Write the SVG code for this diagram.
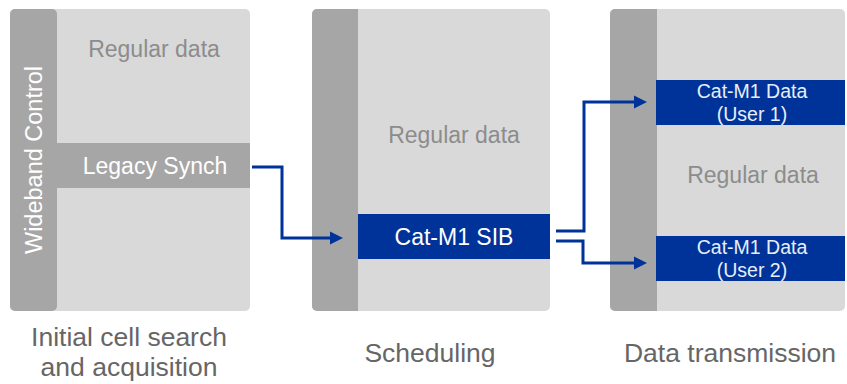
<svg xmlns="http://www.w3.org/2000/svg" width="847" height="384" viewBox="0 0 847 384">
<style>
.panel{fill:#d9d9d9}
.strip{fill:#a6a6a6}
.blue{fill:#003399}
.t{font-family:"Liberation Sans",Arial,sans-serif;text-anchor:middle}
.reg{font-size:23px;fill:#8c8c8c}
.wt{font-size:23px;fill:#ffffff}
.wb{font-size:19.5px;fill:#e8eef8}
.cap{font-size:26.5px;fill:#666666}
.conn{fill:none;stroke:#003399;stroke-width:3}
</style>
<defs>
<marker id="ah" markerUnits="userSpaceOnUse" markerWidth="14" markerHeight="14" refX="1" refY="7" orient="auto">
<path d="M0,0.5 L13,7 L0,13.5 Z" fill="#003399"/>
</marker>
</defs>
<rect width="847" height="384" fill="#ffffff"/>
<g id="panel1">
<rect class="panel" x="10" y="9" width="240" height="302" rx="5"/>
<rect class="strip" x="10" y="9" width="47" height="302" rx="5"/>
<rect class="strip" x="50" y="143" width="200" height="45"/>
<text class="t reg" x="154" y="57">Regular data</text>
<text class="t wt" x="155" y="174">Legacy Synch</text>
<text class="t wt" transform="translate(42,160) rotate(-90)" x="0" y="0" style="font-size:23.5px">Wideband Control</text>
<text class="t cap" x="129" y="346">Initial cell search</text>
<text class="t cap" x="129" y="376">and acquisition</text>
</g>
<g id="panel2">
<rect class="panel" x="312" y="9" width="238" height="302" rx="5"/>
<rect class="strip" x="312" y="9" width="46" height="302" rx="5"/>
<rect class="strip" x="352" y="9" width="6" height="302"/>
<rect class="blue" x="358" y="214" width="192" height="45"/>
<text class="t reg" x="454" y="143">Regular data</text>
<text class="t wt" x="454" y="245">Cat-M1 SIB</text>
<text class="t cap" x="430" y="362">Scheduling</text>
</g>
<g id="panel3">
<rect class="panel" x="610" y="9" width="235" height="302" rx="5"/>
<rect class="strip" x="610" y="9" width="47" height="302" rx="5"/>
<rect class="strip" x="650" y="9" width="7" height="302"/>
<rect class="blue" x="656" y="80" width="189" height="45"/>
<rect class="blue" x="656" y="236" width="189" height="45"/>
<text class="t reg" x="753" y="183">Regular data</text>
<text class="t wb" x="752" y="98">Cat-M1 Data</text>
<text class="t wb" x="752" y="121">(User 1)</text>
<text class="t wb" x="752" y="254">Cat-M1 Data</text>
<text class="t wb" x="752" y="277">(User 2)</text>
<text class="t cap" x="730" y="362">Data transmission</text>
</g>
<g id="connectors">
<path class="conn" d="M252,167 H282 V238 H331" marker-end="url(#ah)"/>
<path class="conn" d="M556,231 H584 V102 H635" marker-end="url(#ah)"/>
<path class="conn" d="M556,241 H583 V263 H635" marker-end="url(#ah)"/>
</g>
</svg>
